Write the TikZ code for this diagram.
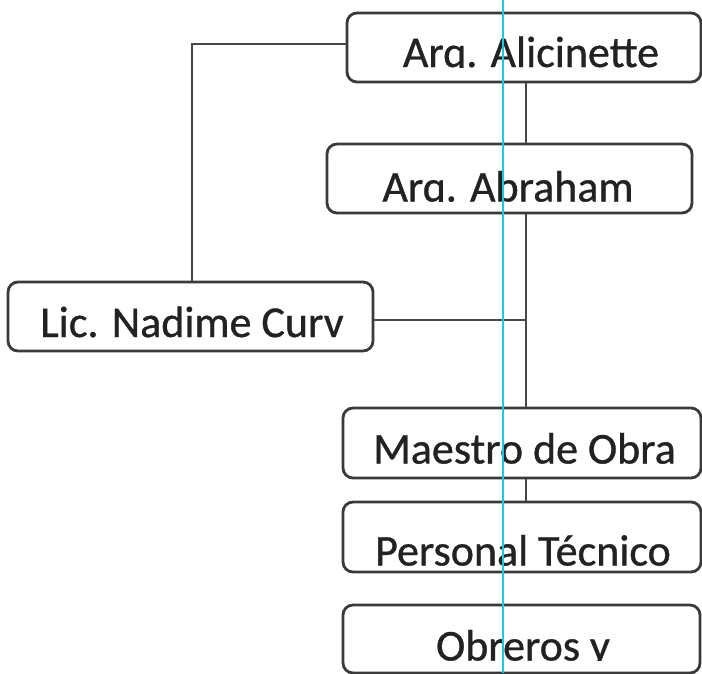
\documentclass[tikz,border=0pt]{standalone}
\usepackage{fontspec}
\setmainfont{Carlito}
\newfontfamily\lblfont{Carlito}[FakeBold=0.8]
\definecolor{boxgray}{HTML}{3A3A3A}
\definecolor{linegray}{HTML}{474747}
\definecolor{txt}{HTML}{222222}
\definecolor{guide}{HTML}{22C6E4}
\begin{document}
\begin{tikzpicture}[x=1pt,y=-1pt,
  box/.style={draw=boxgray, line width=2.8pt, rounded corners=10pt, fill=white, inner sep=0pt},
  lbl/.style={font=\lblfont\fontsize{44pt}{52pt}\selectfont, text=txt, inner sep=0pt, anchor=base},
  conn/.style={draw=linegray, line width=1.4pt},
  guideline/.style={draw=guide, line width=1.8pt}]
\useasboundingbox (0,0) rectangle (702,673);
\fill[white] (0,0) rectangle (702,673);

% boxes
\node[box, minimum width=354pt, minimum height=69pt] (ali) at (524,47.5) {};
\node[box, minimum width=365pt, minimum height=69pt] (abr) at (509.5,178.5) {};
\node[box, minimum width=365pt, minimum height=69pt] (lic) at (190.5,316.5) {};
\node[box, minimum width=358pt, minimum height=70pt] (mae) at (522,443) {};
\node[box, minimum width=358pt, minimum height=70pt] (per) at (522,537) {};
\node[box, minimum width=357pt, minimum height=68pt] (obr) at (521.5,639) {};

% texts (clipped at the baseline, as printed)
\begin{scope}\clip (340,0) rectangle (702,67.3);
\node[lbl] (aliT) at (531,67) {Arq. Alicinette};\end{scope}
\begin{scope}\clip (320,140) rectangle (702,201.8);
\node[lbl] (abrT) at (508,201.5) {Arq. Abraham};\end{scope}
\begin{scope}\clip (0,280) rectangle (380,337.3);
\node[lbl] (licT) at (192,337) {Lic. Nadime Curv};\end{scope}
\begin{scope}\clip (340,400) rectangle (702,463.8);
\node[lbl] (maeT) at (524.5,463.5) {Maestro de Obra};\end{scope}
\begin{scope}\clip (340,495) rectangle (702,565.8);
\node[lbl] (perT) at (523,565.5) {Personal Técnico};\end{scope}
\begin{scope}\clip (340,600) rectangle (702,660.8);
\node[lbl] (obrT) at (523,660.5) {Obreros y};\end{scope}

% connectors
\coordinate (trunk) at (526,0);
\coordinate (lx) at (192,0);
\coordinate (ly) at (0,44);
\coordinate (hy) at (0,320);
\draw[conn] (trunk |- ali.south) -- (trunk |- abr.north);
\draw[conn] (trunk |- abr.south) -- (trunk |- mae.north);
\draw[conn] (trunk |- mae.south) -- (trunk |- per.north);
\draw[conn] (lic.east |- hy) -- (trunk |- hy);
\draw[conn] (lx |- lic.north) -- (lx |- ly) -- (ali.west |- ly);

% cyan guide line
\coordinate (g1) at (503,0);
\coordinate (g2) at (503,673);
\draw[guideline] (g1) -- (g2);
\end{tikzpicture}
\end{document}
